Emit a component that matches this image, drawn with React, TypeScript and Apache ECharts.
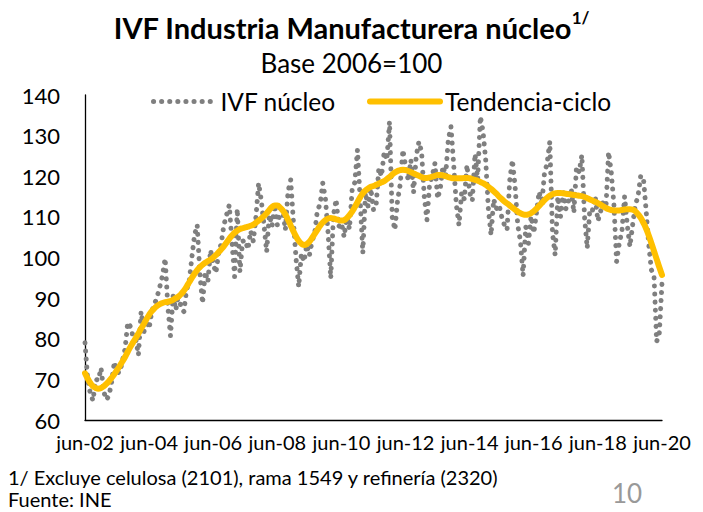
import React, { useEffect, useRef } from "react";
import * as echarts from "echarts";

// Monthly data, Jun-2002 .. Jun-2020
const MONTHS = ["ene", "feb", "mar", "abr", "may", "jun", "jul", "ago", "sep", "oct", "nov", "dic"];
const START_YEAR = 2002;
const START_MONTH = 5; // jun

const ivfNucleo: number[] = [
  // 2002 jun-dic
  79.0, 70.0, 66.5, 64.8, 70.0, 69.8, 72.8,
  // 2003
  67.0, 65.0, 66.0, 69.5, 74.3, 71.8, 71.6, 74.5, 77.5, 84.0, 83.0, 80.5,
  // 2004
  80.0, 76.0, 86.7, 81.5, 84.6, 82.5, 86.8, 88.5, 90.3, 92.8, 95.5, 99.8,
  // 2005
  88.0, 80.7, 90.5, 87.1, 91.0, 87.5, 86.7, 92.0, 94.0, 100.0, 105.5, 108.0,
  // 2006
  96.0, 88.7, 96.5, 94.0, 101.8, 98.5, 96.2, 101.0, 103.5, 108.0, 110.5, 112.9,
  // 2007
  104.0, 95.3, 112.0, 96.5, 104.0, 104.3, 102.0, 106.5, 104.0, 110.0, 118.3, 114.0,
  // 2008
  108.0, 101.4, 110.5, 107.7, 113.0, 108.0, 110.9, 112.0, 106.8, 116.2, 119.1, 109.0,
  // 2009
  99.8, 92.8, 101.0, 99.0, 103.1, 100.5, 104.0, 106.0, 111.7, 113.0, 118.3, 114.5,
  // 2010
  106.0, 94.9, 110.3, 114.3, 107.6, 108.5, 105.1, 110.0, 107.0, 116.6, 118.5, 126.5,
  // 2011
  114.2, 101.1, 116.0, 112.5, 117.0, 111.7, 113.0, 122.0, 120.0, 126.0, 124.0, 133.4,
  // 2012
  110.0, 106.8, 114.0, 118.0, 126.5, 122.5, 119.0, 124.0, 116.0, 125.0, 128.5, 126.0,
  // 2013
  115.0, 109.2, 118.0, 120.0, 123.2, 114.5, 117.0, 122.5, 120.0, 129.0, 132.2, 123.0,
  // 2014
  113.0, 108.0, 116.0, 114.3, 122.8, 116.0, 114.0, 125.5, 119.2, 134.7, 131.0, 124.0,
  // 2015
  112.0, 105.5, 114.3, 112.0, 113.0, 110.0, 108.0, 106.8, 119.0, 124.0, 117.5, 108.0,
  // 2016
  104.0, 95.5, 107.6, 103.5, 110.2, 106.0, 111.0, 116.2, 113.0, 120.7, 123.2, 128.5,
  // 2017
  106.0, 100.6, 115.0, 110.0, 116.0, 112.0, 113.9, 117.1, 111.0, 122.3, 121.0, 125.2,
  // 2018
  110.0, 102.3, 112.0, 111.7, 115.0, 109.0, 111.3, 114.0, 112.0, 126.0, 121.0, 113.0,
  // 2019
  99.0, 103.5, 106.5, 115.0, 108.0, 102.7, 108.0, 112.9, 115.0, 120.0, 119.9, 112.0,
  // 2020 ene-jun
  103.5, 97.0, 95.5, 79.3, 81.4, 93.7,
];

const tendenciaCiclo: number[] = [
  71.5, 70.2, 69.1, 68.3, 67.9, 67.7, 67.9,
  68.3, 68.9, 69.6, 70.4, 71.3, 72.3, 73.3, 74.4, 75.5, 76.8, 78.0, 79.1,
  80.2, 81.3, 82.5, 83.6, 84.8, 85.9, 86.8, 87.5, 88.1, 88.5, 88.8, 89.0,
  89.1, 89.3, 89.6, 90.0, 90.4, 91.0, 91.8, 92.8, 93.9, 95.0, 96.0, 96.9,
  97.6, 98.2, 98.7, 99.1, 99.5, 100.0, 100.6, 101.3, 102.0, 102.8, 103.7, 104.6,
  105.4, 106.1, 106.6, 107.0, 107.2, 107.4, 107.6, 107.8, 108.1, 108.6, 109.1, 109.6,
  110.2, 110.9, 111.7, 112.4, 112.8, 112.8, 112.3, 111.6, 110.6, 109.3, 107.9, 106.5,
  105.2, 104.1, 103.4, 103.1, 103.3, 103.9, 104.8, 105.8, 106.8, 107.8, 108.6, 109.2,
  109.6, 109.7, 109.6, 109.4, 109.2, 109.1, 109.2, 109.7, 110.4, 111.3, 112.4, 113.6,
  114.8, 115.8, 116.5, 117.0, 117.4, 117.6, 117.9, 118.2, 118.5, 118.8, 119.3, 119.8,
  120.4, 120.9, 121.3, 121.5, 121.6, 121.5, 121.3, 121.0, 120.7, 120.4, 120.1, 119.8,
  119.6, 119.6, 119.7, 119.9, 120.1, 120.3, 120.3, 120.2, 120.0, 119.8, 119.6, 119.5,
  119.5, 119.5, 119.5, 119.6, 119.6, 119.5, 119.3, 119.1, 118.9, 118.6, 118.3, 117.9,
  117.4, 116.9, 116.3, 115.7, 115.0, 114.4, 113.8, 113.3, 112.8, 112.3, 111.8, 111.3,
  110.9, 110.6, 110.5, 110.6, 110.9, 111.4, 112.0, 112.7, 113.4, 114.1, 114.7, 115.2,
  115.6, 115.8, 115.9, 115.9, 115.8, 115.7, 115.6, 115.5, 115.4, 115.3, 115.2, 115.1,
  114.9, 114.6, 114.3, 114.0, 113.7, 113.4, 113.0, 112.6, 112.2, 111.9, 111.7, 111.6,
  111.6, 111.6, 111.7, 111.8, 111.9, 111.9, 111.8, 111.4, 110.7, 109.8, 108.6, 107.2,
  105.5, 103.6, 101.6, 99.6, 97.6, 95.7,
];

const categories: string[] = ivfNucleo.map((_, i) => {
  const m = (START_MONTH + i) % 12;
  const y = START_YEAR + Math.floor((START_MONTH + i) / 12);
  return `${MONTHS[m]}-${String(y % 100).padStart(2, "0")}`;
});

const Y_MIN = 60;
const Y_MAX = 140;
const Y_STEP = 10;

const TITLE = "IVF Industria Manufacturera núcleo";
const TITLE_NOTE = "1/";
const SUBTITLE = "Base 2006=100";
const SERIES_NAMES = ["IVF núcleo", "Tendencia-ciclo"];
const FOOTNOTE = "1/ Excluye celulosa (2101), rama 1549 y refinería (2320)";
const SOURCE = "Fuente: INE";
const PAGE = "10";

const FONT = "Lato, 'Open Sans', sans-serif";
const GRAY = "#7f7f7f";
const GOLD = "#FFC000";
const DOTS = [0.1, 8];

export default function App() {
  const ref = useRef<HTMLDivElement>(null);
  useEffect(() => {
    if (!ref.current) return;
    const chart = echarts.init(ref.current, null, { renderer: "svg" });
    chart.setOption({
      animation: false,
      backgroundColor: "#ffffff",
      textStyle: { fontFamily: FONT },
      title: [
        {
          text: `{a|${TITLE}}{b|${TITLE_NOTE}}`,
          left: "center",
          top: 4,
          textStyle: {
            rich: {
              a: { fontSize: 29, fontWeight: "bold", color: "#000", fontFamily: FONT, lineHeight: 36 },
              b: { fontSize: 17, fontWeight: "bold", color: "#000", fontFamily: FONT, verticalAlign: "top", lineHeight: 24 },
            },
          },
        },
        {
          text: SUBTITLE,
          left: "center",
          top: 45,
          textStyle: { fontSize: 26, fontWeight: "normal", color: "#000", fontFamily: FONT },
        },
      ],
      legend: [
        {
          data: [SERIES_NAMES[0]],
          left: 146,
          top: 84,
          itemWidth: 62,
          itemHeight: 14,
          itemGap: 10,
          itemStyle: { opacity: 0 },
          lineStyle: { color: GRAY, width: 5, type: DOTS, cap: "round" },
          textStyle: { fontSize: 24.5, color: "#000", fontFamily: FONT },
        },
        {
          data: [SERIES_NAMES[1]],
          left: 362,
          top: 84,
          itemWidth: 70,
          itemHeight: 14,
          itemStyle: { opacity: 0 },
          lineStyle: { color: GOLD, width: 6, cap: "round" },
          textStyle: { fontSize: 24.5, color: "#000", fontFamily: FONT },
        },
      ],
      grid: { left: 85, right: 41, top: 95, bottom: 92, containLabel: false },
      xAxis: {
        type: "category",
        data: categories,
        boundaryGap: false,
        axisLine: { lineStyle: { color: "#000", width: 1.3 } },
        axisTick: { show: false },
        axisLabel: { interval: 23, fontSize: 20, color: "#000", fontFamily: FONT, margin: 12 },
        splitLine: { show: false },
      },
      yAxis: {
        type: "value",
        min: Y_MIN,
        max: Y_MAX,
        interval: Y_STEP,
        axisLine: { show: true, lineStyle: { color: "#000", width: 1.3 } },
        axisTick: { show: false },
        axisLabel: { fontSize: 22, color: "#000", fontFamily: FONT, margin: 25 },
        splitLine: { show: false },
      },
      series: [
        {
          name: SERIES_NAMES[0],
          type: "line",
          data: ivfNucleo,
          symbol: "none",
          smooth: false,
          lineStyle: { color: GRAY, width: 5, type: DOTS, cap: "round", join: "round" },
          itemStyle: { color: GRAY },
          z: 2,
        },
        {
          name: SERIES_NAMES[1],
          type: "line",
          data: tendenciaCiclo,
          symbol: "none",
          smooth: 0.5,
          lineStyle: { color: GOLD, width: 6, cap: "round", join: "round" },
          itemStyle: { color: GOLD },
          z: 3,
        },
      ],
      graphic: [
        {
          type: "text",
          left: 8,
          top: 467,
          style: { text: FOOTNOTE, fontSize: 20, fill: "#000", fontFamily: FONT },
        },
        {
          type: "text",
          left: 8,
          top: 489,
          style: { text: SOURCE, fontSize: 20, fill: "#000", fontFamily: FONT },
        },
        {
          type: "text",
          left: 612,
          top: 480,
          style: { text: PAGE, fontSize: 26, fill: "#999999", fontFamily: FONT },
        },
      ],
    });
    return () => chart.dispose();
  }, []);
  return (
    <div
      ref={ref}
      style={{ position: "absolute", left: 0, top: 0, width: 703, height: 512 }}
    />
  );
}
